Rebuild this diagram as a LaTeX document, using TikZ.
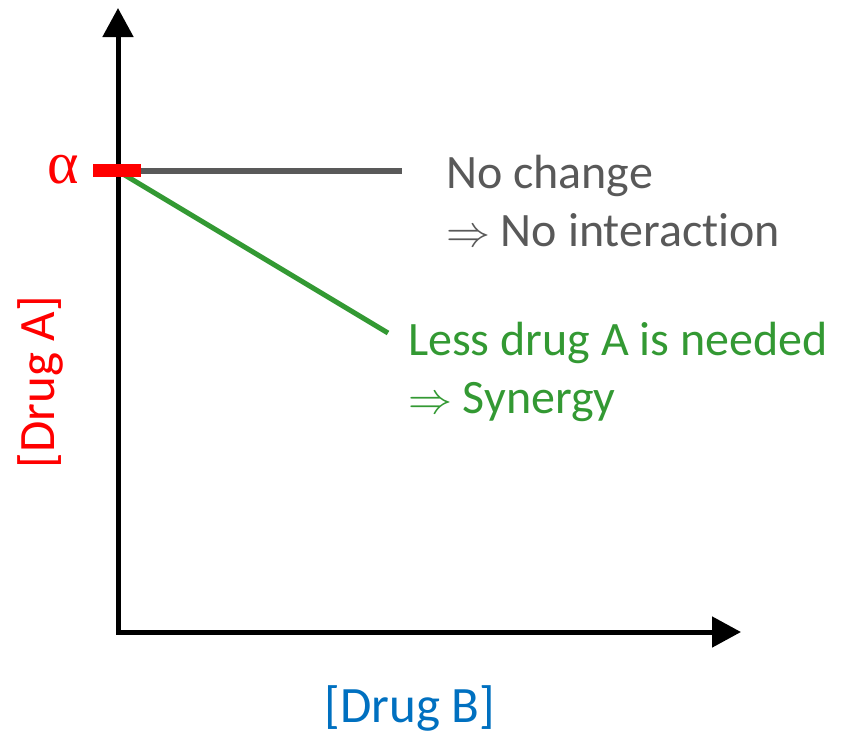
\documentclass[tikz,border=0pt]{standalone}
\usepackage{graphicx}
\usepackage{fontspec}
\setmainfont[Ligatures={NoCommon,NoContextual}]{Carlito}
\newfontfamily\alphafont{Liberation Serif}
\usetikzlibrary{arrows.meta}
\definecolor{axisgray}{HTML}{595959}
\definecolor{syngreen}{HTML}{339933}
\definecolor{labelblue}{HTML}{0070C0}
\definecolor{alphared}{HTML}{FF0000}
\newcommand\impl{\mbox{\fontsize{10}{12}\selectfont\scalebox{4.4}{$\Rightarrow$}}}
\tikzset{
  axisline/.style={line width=5pt, line join=miter, {Triangle[length=29pt,width=30pt]}-{Triangle[length=29pt,width=30pt]}},
  txt/.style={inner sep=0pt, outer sep=0pt, anchor=base west, align=left, font=\fontsize{48}{58}\selectfont},
  axlabel/.style={inner sep=0pt, outer sep=0pt, font=\fontsize{51}{60}\selectfont},
}
\begin{document}
\begin{tikzpicture}[x=1pt,y=-1pt]
\useasboundingbox (0,0) rectangle (843,734);
\coordinate (top) at (118,8);
\coordinate (origin) at (118,632);
\coordinate (right) at (741,632);
\coordinate (a0) at (118,171);
\coordinate (g1) at (402,171);
\coordinate (s1) at (388,333);
\coordinate (barL) at (93,170);
\coordinate (barR) at (141,170);
% lines
\draw[axisgray, line width=6pt] (a0) -- (g1);
\draw[syngreen, line width=5pt] (a0) -- (s1);
% axes
\draw[axisline] (top) -- (origin) -- (right);
% alpha bar
\draw[alphared, line width=13pt] (barL) -- (barR);
\node[inner sep=0pt, text=alphared, font=\alphafont\fontsize{60}{66}\selectfont] (alpha) at (63,170) {α};
% texts
\node[txt, text=axisgray] (nochange) at (446,246) {No change\\\impl\ No interaction};
\node[txt, text=syngreen] (synergy) at (408,413) {Less drug A is needed\\\impl\ Synergy};
\node[axlabel, text=alphared, rotate=90] (drugA) at (40,382) {[Drug A]};
\node[axlabel, text=labelblue] (drugB) at (410,708) {[Drug B]};
\end{tikzpicture}
\end{document}
